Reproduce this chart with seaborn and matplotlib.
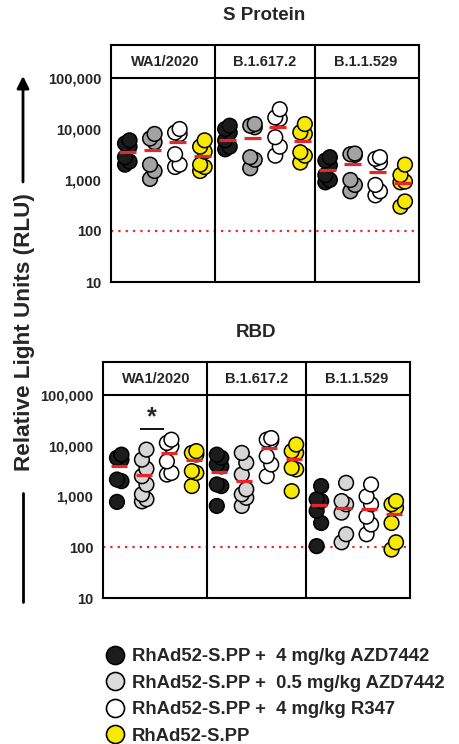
import matplotlib
matplotlib.use("Agg")
import matplotlib.pyplot as plt
import matplotlib.ticker as mticker
from matplotlib.lines import Line2D
import numpy as np
import pandas as pd
import seaborn as sns

variants = ["WA1/2020", "B.1.617.2", "B.1.1.529"]
legend_labels = [
    "RhAd52-S.PP +  4 mg/kg AZD7442",
    "RhAd52-S.PP +  0.5 mg/kg AZD7442",
    "RhAd52-S.PP +  4 mg/kg R347",
    "RhAd52-S.PP",
]

# S protein, one list per group: 4 mg/kg AZD7442, 0.5 mg/kg AZD7442, R347, S.PP only
s_wa1 = [[6000, 5200, 4500, 2800, 2300, 2000],
         [8000, 6500, 5500, 2000, 1500, 1050],
         [10000, 8500, 8000, 3200, 2000, 1800],
         [6000, 4500, 3600, 2000, 1800, 1500]]
s_delta = [[11600, 10000, 8500, 6000, 4500, 4000],
           [12500, 11600, 10800, 2800, 2500, 1700],
           [24400, 16800, 15800, 6900, 4500, 3000],
           [12500, 8600, 8000, 3500, 3000, 2200]]
s_omicron = [[2800, 2400, 1950, 1250, 1000, 900],
             [3300, 3200, 3100, 1000, 800, 600],
             [2800, 2600, 2200, 800, 600, 500],
             [2000, 1250, 930, 900, 380, 300]]
s_means = [[3600, 3800, 5500, 3000],
           [6000, 6700, 11000, 5800],
           [1560, 2100, 1450, 890]]

# RBD
rbd_wa1 = [[6650, 5750, 5300, 2150, 2000, 780],
           [8350, 5300, 3500, 2500, 1720, 1100, 880, 800],
           [13100, 11300, 9700, 4900, 2900, 2700],
           [7800, 7200, 6700, 3150, 2900, 1600]]
rbd_delta = [[6650, 5750, 4250, 3900, 1720, 1600, 650],
             [7200, 4600, 2700, 1380, 1100, 940, 650],
             [14100, 13100, 12500, 6200, 4250, 2500],
             [10500, 7800, 7200, 3650, 3400, 1270]]
rbd_omicron = [[1600, 880, 810, 520, 300, 105],
               [1850, 810, 700, 480, 180, 125],
               [1720, 1000, 700, 400, 280, 180],
               [810, 700, 600, 300, 125, 90]]
rbd_means = [[3900, 2600, 7200, 5100],
             [3000, 2000, 9000, 5500],
             [680, 600, 560, 450]]

RED = "#e8262a"
YELLOW = "#f7e900"
colors_s = ["#1c1c1c", "#a3a3a3", "#ffffff", YELLOW]
colors_rbd = ["#1c1c1c", "#d6d6d6", "#ffffff", YELLOW]


def build_frame(panel):
    rows = []
    for v, groups in enumerate(panel):
        for g, vals in enumerate(groups):
            order = np.argsort(vals)
            for rank, idx in enumerate(order):
                # zigzag neighbours left/right so overlapping points stay visible
                off = 0.09 * (1 if rank % 2 else -1)
                rows.append({"variant": variants[v], "group": g,
                             "x": v * 4 + g + off, "rlu": vals[idx]})
    return pd.DataFrame(rows)


def draw_panel(ax, panel, means, colors):
    df = build_frame(panel)
    ax.set_yscale("log")
    sns.scatterplot(data=df, x="x", y="rlu", hue="group", palette=colors,
                    s=112, edgecolor="black", linewidth=1.1, legend=False,
                    ax=ax, zorder=3)
    for v in range(3):
        for g in range(4):
            xc = v * 4 + g
            ax.hlines(means[v][g], xc - 0.33, xc + 0.33, color=RED, lw=2.3, zorder=4)
    ax.axhline(100, color=RED, lw=1.6, ls=(0, (1, 2.3)), zorder=1)
    ax.axhline(1e5, color="black", lw=1.5, zorder=5)
    for xd in (3.5, 7.5):
        ax.axvline(xd, color="black", lw=1.5, zorder=5)
    for v, name in enumerate(variants):
        ax.text(v * 4 + 1.5, 10 ** 5.32, name, ha="center", va="center",
                fontsize=10.5, fontweight="bold")
    ax.set_xlim(-0.65, 11.65)
    ax.set_ylim(10, 10 ** 5.647)
    ax.set_yticks([10, 100, 1000, 10000, 100000])
    ax.yaxis.set_major_formatter(mticker.FuncFormatter(lambda y, p: f"{int(y):,}"))
    ax.yaxis.set_minor_locator(mticker.NullLocator())
    ax.set_xticks([])
    ax.set_xlabel("")
    ax.set_ylabel("")
    ax.tick_params(axis="y", length=6, width=1.5, pad=1, labelsize=10.5)
    for sp in ax.spines.values():
        sp.set_linewidth(1.5)
        sp.set_color("black")


sns.set_style("white")
plt.rcParams["font.family"] = ["Liberation Sans", "DejaVu Sans"]
plt.rcParams["font.weight"] = "bold"

fig = plt.figure(figsize=(4.59, 7.44), dpi=100)
ax_s = fig.add_axes([111 / 459, 1 - 282 / 744, 308 / 459, 237 / 744])
ax_r = fig.add_axes([103 / 459, 1 - 598 / 744, 307 / 459, 236 / 744])

draw_panel(ax_s, [s_wa1, s_delta, s_omicron], s_means, colors_s)
draw_panel(ax_r, [rbd_wa1, rbd_delta, rbd_omicron], rbd_means, colors_rbd)

fig.text(264 / 459, 1 - 16 / 744, "S Protein", ha="center", va="center",
         fontsize=13.5, fontweight="bold")
fig.text(256 / 459, 1 - 333 / 744, "RBD", ha="center", va="center",
         fontsize=13.5, fontweight="bold")

# significance bracket between 0.5 mg/kg AZD7442 and R347 (WA1/2020, RBD)
ax_r.hlines(21500, 0.83, 1.79, color="black", lw=1.3)
ax_r.text(1.3, 10 ** 4.56, "*", ha="center", va="center", fontsize=18, fontweight="bold")

# shared y label with arrow
fig.text(25 / 459, 1 - 332 / 744, "Relative Light Units (RLU)", rotation=90,
         ha="center", va="center", fontsize=16.2, fontweight="bold")
fig.add_artist(Line2D([23 / 459, 23 / 459], [1 - 493 / 744, 1 - 602 / 744],
                      transform=fig.transFigure, color="black", lw=2))
ax_s.annotate("", xy=(23, 744 - 76), xytext=(23, 744 - 182),
              xycoords="figure pixels", textcoords="figure pixels",
              arrowprops=dict(arrowstyle="-|>", color="black", lw=2,
                              mutation_scale=18, shrinkA=0, shrinkB=0))

handles = [Line2D([], [], marker="o", ls="", markersize=13,
                  markerfacecolor=c, markeredgecolor="black", markeredgewidth=1.2)
           for c in ["#1c1c1c", "#dcdcdc", "#ffffff", YELLOW]]
fig.legend(handles, legend_labels, loc="upper left",
           bbox_to_anchor=(105 / 459, 1 - 648 / 744), frameon=False,
           prop={"weight": "bold", "size": 13.3}, handlelength=1.1,
           handletextpad=0.35, labelspacing=0.52, borderpad=0, borderaxespad=0)

fig.savefig("out.png", dpi=100)
